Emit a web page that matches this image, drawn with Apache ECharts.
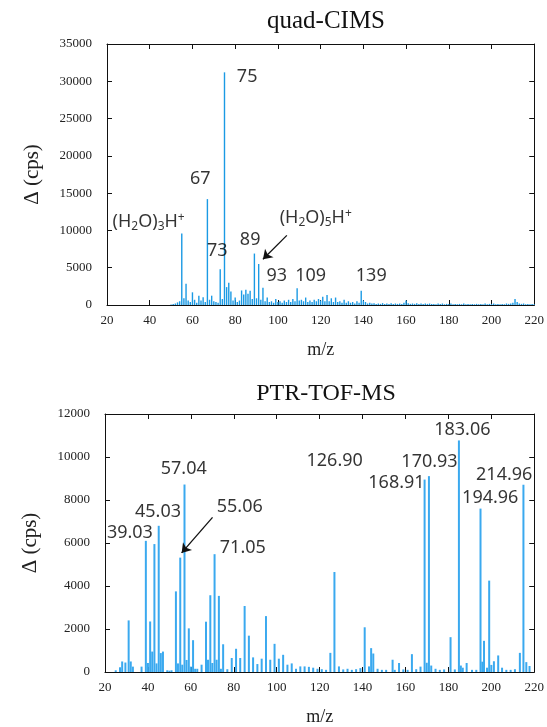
<!DOCTYPE html>
<html>
<head>
<meta charset="utf-8">
<script src="https://cdn.jsdelivr.net/npm/echarts@6/dist/echarts.min.js"></script>
<style>
  html, body { margin: 0; padding: 0; background: #fff; }
  #chart { width: 547px; height: 727px; }
</style>
</head>
<body>
<div id="chart"></div>
<script>
// quad-CIMS, m/z 50..220
var quadMz = [];
for (var m = 50; m <= 220; m++) quadMz.push(m);
var quadCps = [
  80, 150, 200, 350, 500, 9600, 900, 2850, 600, 400,
  1700, 700, 300, 1250, 600, 1050, 400, 14200, 700, 1250,
  500, 400, 300, 4800, 800, 31200, 2400, 3000, 1800, 600,
  1000, 400, 600, 1950, 1400, 2050, 1500, 1900, 800, 6900,
  900, 5500, 700, 2300, 500, 1000, 400, 500, 300, 800,
  400, 500, 300, 600, 400, 700, 400, 800, 500, 2250,
  600, 700, 500, 1000, 400, 600, 400, 700, 500, 800,
  600, 1100, 500, 1350, 500, 900, 400, 1000, 400, 500,
  300, 700, 300, 500, 300, 400, 200, 500, 300, 1900,
  600, 400, 200, 300, 200, 250, 150, 200, 150, 250,
  150, 200, 150, 250, 150, 200, 150, 200, 150, 300,
  600, 250, 150, 200, 150, 250, 150, 200, 150, 200,
  150, 200, 150, 150, 100, 200, 150, 200, 100, 150,
  150, 200, 100, 150, 100, 150, 100, 200, 100, 150,
  100, 150, 100, 150, 100, 150, 100, 200, 100, 150,
  150, 200, 100, 150, 100, 150, 100, 200, 150, 200,
  300, 800, 400, 200, 150, 200, 100, 150, 100, 150,
  100
];

// PTR-TOF-MS
var ptrMz = [
  25, 27, 28, 29.5, 31.02, 32, 33, 37.03, 39.03, 40, 41.04, 42, 43.02, 44, 45.03, 46, 47,
  49, 50, 51, 53.04, 54, 55.06, 56, 57.04, 58, 59.05, 60, 61.03, 62, 63, 65, 67.05, 68,
  69.07, 70, 71.05, 72, 73.06, 74, 75.04, 77, 79.05, 81.07, 83, 85.06, 87.04, 89, 91, 93,
  95, 97, 99, 101, 103, 105, 107, 109, 111, 113, 115, 117, 119, 121, 123, 125, 126.9, 129,
  131, 133, 135, 137, 139, 141, 143, 144, 145, 147, 149, 151, 154, 155, 157, 159, 161, 163,
  165, 167, 168.91, 169.9, 170.93, 172, 174, 176, 178, 181, 183, 184.9, 185.8, 186.7, 188.5,
  191, 193, 194.96, 195.8, 196.6, 198, 199, 200, 201.2, 203.2, 205, 207, 209, 211, 213.3,
  214.96, 216.3, 217.8
];
var ptrCps = [
  80, 220, 490, 440, 2400, 490, 250, 250, 6100, 420, 2350, 950, 5950, 400, 6800, 880, 950,
  80, 60, 80, 3750, 400, 5320, 340, 8720, 560, 2030, 250, 1480, 150, 150, 340, 2340, 570,
  3570, 420, 5480, 570, 3540, 150, 1290, 130, 650, 1080, 650, 3070, 1690, 680, 370, 620,
  2600, 570, 1310, 620, 800, 340, 400, 150, 260, 260, 240, 200, 150, 130, 100, 890, 4650, 260,
  120, 150, 100, 130, 180, 2080, 260, 1110, 860, 150, 100, 100, 570, 100, 420, 120, 100, 830,
  130, 250, 8950, 430, 9110, 300, 150, 100, 120, 1620, 120, 10770, 300, 200, 420,
  100, 100, 7600, 480, 1450, 200, 4250, 330, 500, 770, 200, 100, 100, 130, 890,
  8710, 460, 280
];

// annotation text with anchor (m/z, cps)
var quadLabels = ['(H{s|2}O){s|3}H{p|+}', '67', '73', '75', '89', '(H{s|2}O){s|5}H{p|+}', '93', '109', '139'];
var quadLabelMz = [39.5, 63.7, 71.6, 85.6, 87, 117.7, 99.5, 115.3, 143.7];
var quadLabelCps = [11080, 16980, 7200, 30650, 8680, 11630, 3850, 3850, 3850];
var quadArrow = [[104.2, 9340], [93, 6130]];

var ptrLabels = ['39.03', '45.03', '57.04', '55.06', '71.05', '126.90', '168.91', '170.93', '183.06', '194.96', '214.96'];
var ptrLabelMz = [31.6, 44.7, 56.7, 82.8, 84.2, 127, 155.8, 171.2, 186.5, 199.5, 206];
var ptrLabelCps = [6460, 7430, 9460, 7660, 5770, 9830, 8810, 9780, 11260, 8120, 9180];
var ptrArrow = [[70.1, 7190], [55.7, 5540]];

var xTicks = [20, 220, 20];

function pairs(xs, ys) {
    var out = [];
    for (var i = 0; i < xs.length; i++) out.push([xs[i], ys[i]]);
    return out;
}
function labelData(txt, xs, ys) {
    var out = [];
    for (var i = 0; i < txt.length; i++) out.push({ name: txt[i], value: [xs[i], ys[i]] });
    return out;
}

var serif = '"Liberation Serif", "DejaVu Serif", serif';
var sans = '"Noto Sans", "DejaVu Sans", sans-serif';

function xAx(grid, main) {
    return {
        type: 'value', gridIndex: grid, min: xTicks[0], max: xTicks[1], interval: xTicks[2],
        position: main ? 'bottom' : 'top',
        axisLine: { show: true, onZero: false, lineStyle: { color: '#111', width: 1 } },
        axisTick: { show: true, inside: true, length: 5, lineStyle: { color: '#111' } },
        axisLabel: { show: main, fontFamily: serif, fontSize: 13, color: '#222', margin: 9 },
        splitLine: { show: false },
        name: main ? 'm/z' : '', nameLocation: 'middle', nameGap: 36,
        nameTextStyle: { fontFamily: serif, fontSize: 18, color: '#222' }
    };
}
function yAx(grid, main, max, step) {
    return {
        type: 'value', gridIndex: grid, min: 0, max: max, interval: step,
        position: main ? 'left' : 'right',
        axisLine: { show: true, lineStyle: { color: '#111', width: 1 } },
        axisTick: { show: true, inside: true, length: 5, lineStyle: { color: '#111' } },
        axisLabel: { show: main, fontFamily: serif, fontSize: 13, color: '#222', margin: 15,
                     formatter: function (v) { return String(v); } },
        splitLine: { show: false },
        name: main ? 'Δ (cps)' : '', nameLocation: 'middle', nameGap: 64,
        nameTextStyle: { fontFamily: serif, fontSize: 21, color: '#222' }
    };
}
function labelSeries(x, y, data) {
    return {
        type: 'scatter', xAxisIndex: x, yAxisIndex: y, symbolSize: 0, silent: true,
        data: data,
        label: {
            show: true, position: 'inside', formatter: '{b}',
            fontFamily: sans, fontSize: 18, color: '#000', lineHeight: 21,
            rich: {
                s: { fontFamily: sans, fontSize: 12, color: '#000', verticalAlign: 'bottom', lineHeight: 15 },
                p: { fontFamily: sans, fontSize: 12, color: '#000', verticalAlign: 'top', lineHeight: 15 }
            }
        },
        markLine: {
            silent: true, symbol: ['none', 'arrow'], symbolSize: 9,
            lineStyle: { color: '#111', width: 1.3, type: 'solid' },
            label: { show: false },
            data: []
        }
    };
}

var chart = echarts.init(document.getElementById('chart'));

var s2 = labelSeries(0, 0, labelData(quadLabels, quadLabelMz, quadLabelCps));
s2.markLine.data = [[{ coord: quadArrow[0] }, { coord: quadArrow[1] }]];
var s3 = labelSeries(2, 2, labelData(ptrLabels, ptrLabelMz, ptrLabelCps));
s3.markLine.data = [[{ coord: ptrArrow[0] }, { coord: ptrArrow[1] }]];

chart.setOption({
    animation: false,
    backgroundColor: '#fff',
    title: [
        { text: 'quad-CIMS', left: 321, top: 4, textAlign: 'center',
          textStyle: { fontFamily: serif, fontSize: 25, fontWeight: 'normal', color: '#111' } },
        { text: 'PTR-TOF-MS', left: 321, top: 377, textAlign: 'center',
          textStyle: { fontFamily: serif, fontSize: 24, fontWeight: 'normal', color: '#111' } }
    ],
    grid: [
        { left: 107, right: 11, top: 44, height: 261 },
        { left: 105, right: 10, top: 414, height: 260 }
    ],
    xAxis: [xAx(0, true), xAx(0, false), xAx(1, true), xAx(1, false)],
    yAxis: [yAx(0, true, 35000, 5000), yAx(0, false, 35000, 5000), yAx(1, true, 12000, 2000), yAx(1, false, 12000, 2000)],
    series: [
        { type: 'bar', xAxisIndex: 0, yAxisIndex: 0, barWidth: 1.4, silent: true,
          itemStyle: { color: '#1b9ae4' }, data: pairs(quadMz, quadCps) },
        { type: 'bar', xAxisIndex: 2, yAxisIndex: 2, barWidth: 2, silent: true,
          itemStyle: { color: '#3aa9ef' }, data: pairs(ptrMz, ptrCps) },
        s2, s3
    ]
});
</script>
</body>
</html>
